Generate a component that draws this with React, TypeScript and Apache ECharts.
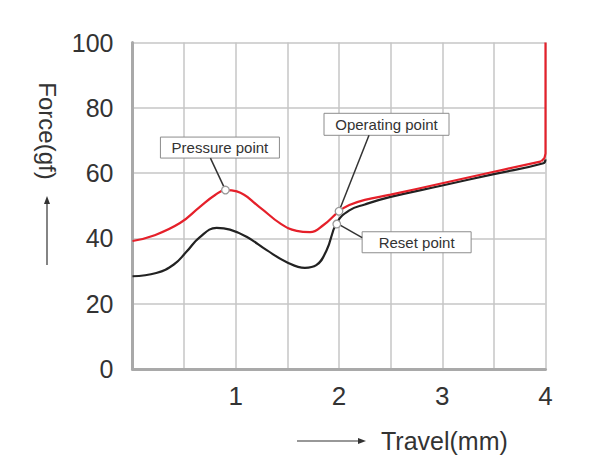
import React, { useEffect, useRef } from "react";
import * as echarts from "echarts";

// Travel (mm) vs Force (gf)
const downstroke: [number, number][] = [
  [0, 39.2], [0.2, 40.8], [0.46, 44.7], [0.65, 49.6], [0.8, 53.3], [0.9, 54.8],
  [1.01, 54.4], [1.23, 49.6], [1.43, 44.6], [1.59, 42.3], [1.72, 41.9], [1.85, 44.1],
  [2.0, 48.3], [2.1, 50.2], [2.25, 51.8], [2.5, 53.4], [3.0, 56.9], [3.5, 60.4],
  [3.96, 63.6],
];
const bottomOut: [number, number][] = [[3.96, 63.6], [3.99, 64.6], [4.0, 66], [4.0, 100]];
const upstroke: [number, number][] = [
  [0, 28.4], [0.23, 29.4], [0.4, 32.0], [0.52, 35.8], [0.65, 40.3], [0.815, 43.2],
  [0.944, 42.7], [1.105, 40.5], [1.3, 36.4], [1.49, 32.8], [1.67, 31.0], [1.78, 31.8],
  [1.88, 36.4], [1.977, 44.7], [2.1, 48.6], [2.25, 50.4], [2.5, 52.7], [3.0, 56.2],
  [3.5, 59.7], [3.98, 63.0], [4.0, 64.2],
];
const xTickLabels = ["1", "2", "3", "4"];
const yTickLabels = ["0", "20", "40", "60", "80", "100"];
const pressurePoint: [number, number] = [0.9, 54.8];
const operatingPoint: [number, number] = [2.0, 48.3];
const resetPoint: [number, number] = [1.977, 44.7];
const annotationLabels = ["Pressure point", "Operating point", "Reset point"];
const yAxisTitle = "Force(gf)";
const xAxisTitle = "Travel(mm)";

export default function App() {
  const ref = useRef<HTMLDivElement>(null);
  useEffect(() => {
    const chart = echarts.init(ref.current!, null, { renderer: "svg" });
    const font = "Liberation Sans, Arial, sans-serif";
    chart.setOption({
      animation: false,
      backgroundColor: "#ffffff",
      grid: { left: 132.5, right: 55.5, top: 42.5, bottom: 106 },
      xAxis: {
        type: "value",
        min: 0,
        max: 4,
        interval: 0.5,
        axisLine: { show: true, lineStyle: { color: "#a9a9a9", width: 3 } },
        axisTick: { show: false },
        splitLine: { show: true, lineStyle: { color: "#c6c6c6", width: 1.5 } },
        axisLabel: {
          margin: 14,
          fontSize: 26,
          fontFamily: font,
          color: "#333333",
          formatter: (v: number) => {
            const s = String(v);
            return xTickLabels.includes(s) ? s : "";
          },
        },
      },
      yAxis: {
        type: "value",
        min: 0,
        max: 100,
        interval: 20,
        axisLine: { show: true, lineStyle: { color: "#a9a9a9", width: 3 } },
        axisTick: { show: false },
        splitLine: { show: true, lineStyle: { color: "#c6c6c6", width: 1.5 } },
        axisLabel: {
          margin: 19,
          fontSize: 25,
          fontFamily: font,
          color: "#333333",
          formatter: (v: number) => {
            const s = String(v);
            return yTickLabels.includes(s) ? s : "";
          },
        },
      },
      series: [
        {
          type: "line",
          data: upstroke,
          smooth: 0.45,
          showSymbol: false,
          lineStyle: { color: "#222222", width: 2.2 },
          z: 2,
        },
        {
          type: "line",
          data: downstroke,
          smooth: 0.45,
          showSymbol: false,
          lineStyle: { color: "#e5202a", width: 2.2 },
          z: 3,
        },
        {
          type: "line",
          data: bottomOut,
          smooth: false,
          showSymbol: false,
          lineStyle: { color: "#e5202a", width: 2.2, join: "round" },
          z: 3,
        },
      ],
    });

    const px = (p: [number, number]) =>
      chart.convertToPixel({ gridIndex: 0 }, p) as number[];

    const pp = px(pressurePoint);
    const op = px(operatingPoint);
    const rp = px(resetPoint);

    const box = (cx: number, cy: number, w: number, h: number, text: string) => ({
      type: "group",
      z: 20,
      children: [
        {
          type: "rect",
          shape: { x: cx - w / 2, y: cy - h / 2, width: w, height: h },
          style: { fill: "#ffffff", stroke: "#8c8c8c", lineWidth: 1 },
        },
        {
          type: "text",
          x: cx,
          y: cy,
          style: {
            text,
            font: `15px ${font}`,
            fill: "#333333",
            align: "center",
            verticalAlign: "middle",
          },
        },
      ],
    });
    const leader = (x1: number, y1: number, x2: number, y2: number) => ({
      type: "line",
      z: 19,
      shape: { x1, y1, x2, y2 },
      style: { stroke: "#333333", lineWidth: 1.5 },
    });
    const marker = (p: number[]) => ({
      type: "circle",
      z: 21,
      shape: { cx: p[0], cy: p[1], r: 3.8 },
      style: { fill: "#ffffff", stroke: "#9a9a9a", lineWidth: 1.3 },
    });

    chart.setOption({
      graphic: [
        leader(pp[0] - 15, pp[1] - 32, pp[0], pp[1]),
        box(pp[0] - 5.5, pp[1] - 42.5, 119, 21, annotationLabels[0]),
        marker(pp),
        leader(op[0] + 30, op[1] - 76, op[0], op[1]),
        box(op[0] + 47.5, op[1] - 87, 125, 22, annotationLabels[1]),
        marker(op),
        leader(rp[0], rp[1], rp[0] + 25.5, rp[1] + 14.5),
        box(rp[0] + 80, rp[1] + 19.2, 109, 21, annotationLabels[2]),
        marker(rp),
        {
          type: "text",
          x: 47,
          y: 131,
          rotation: -Math.PI / 2,
          style: {
            text: yAxisTitle,
            font: `24px ${font}`,
            fill: "#333333",
            align: "center",
            verticalAlign: "middle",
          },
        },
        {
          type: "line",
          shape: { x1: 47, y1: 265, x2: 47, y2: 202 },
          style: { stroke: "#333333", lineWidth: 1.2 },
        },
        {
          type: "polygon",
          shape: { points: [[47, 196], [44, 204], [50, 204]] },
          style: { fill: "#333333" },
        },
        {
          type: "line",
          shape: { x1: 297, y1: 441, x2: 360, y2: 441 },
          style: { stroke: "#333333", lineWidth: 1.2 },
        },
        {
          type: "polygon",
          shape: { points: [[366, 441], [358, 438], [358, 444]] },
          style: { fill: "#333333" },
        },
        {
          type: "text",
          x: 381,
          y: 441,
          style: {
            text: xAxisTitle,
            font: `25px ${font}`,
            fill: "#333333",
            align: "left",
            verticalAlign: "middle",
          },
        },
      ],
    });

    return () => chart.dispose();
  }, []);
  return <div ref={ref} style={{ width: 601, height: 475, margin: -8 }} />;
}
